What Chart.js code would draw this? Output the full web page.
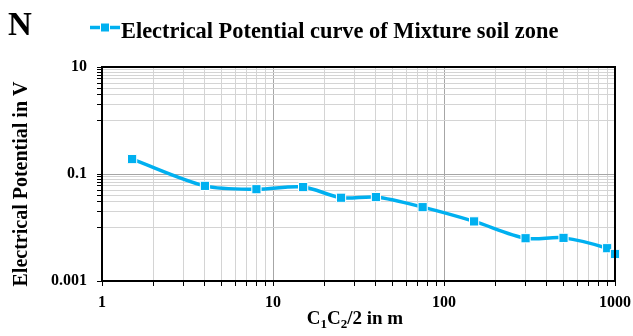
<!DOCTYPE html>
<html>
<head>
<meta charset="utf-8">
<script src="https://cdn.jsdelivr.net/npm/chart.js@4/dist/chart.umd.min.js"></script>
<style>
html,body{margin:0;padding:0;background:#fff;}
#wrap{width:633px;height:336px;position:relative;}
</style>
</head>
<body>
<div id="wrap"><canvas id="c" width="633" height="336"></canvas></div>
<script>
// ---- data ----
const panelLetter = 'N';
const seriesName = 'Electrical Potential curve of Mixture soil zone';
const xValues = [1.5, 4, 8, 15, 25, 40, 75, 150, 300, 500, 900, 1000];
const potentials = [0.19, 0.06, 0.052, 0.057, 0.036, 0.037, 0.024, 0.013, 0.0063, 0.0064, 0.0041, 0.0032];
const xTicks = [1,2,3,4,5,6,7,8,9,10,20,30,40,50,60,70,80,90,100,200,300,400,500,600,700,800,900,1000];
const xTickLabels = ['1','10','100','1000'];
const yTicks = [0.001,0.01,0.02,0.03,0.04,0.05,0.06,0.07,0.08,0.09,0.1,1,2,3,4,5,6,7,8,9,10];
const yTickLabels = ['0.001','0.1','10'];
// x title pieces: [text, isSubscript]
const xTitleParts = [['C', false], ['1', true], ['C', false], ['2', true], ['/2 in m', false]];
const yTitle = 'Electrical Potential in V';

const blue = '#00B0F0';
const serif = "'Liberation Serif','Times New Roman',serif";

function fmt(v){ return String(+v.toPrecision(6)); }
const xMajor = xTickLabels.map(Number);
const yMajor = yTickLabels.map(Number);
const isMajor = (list, v) => list.some(m => Math.abs(m - v) / m < 1e-9);

const decor = {
  id: 'decor',
  afterDraw(chart) {
    const {ctx, chartArea: a} = chart;
    ctx.save();
    // box border
    ctx.strokeStyle = '#000';
    ctx.lineWidth = 2;
    ctx.strokeRect(a.left, a.top, a.right - a.left, a.bottom - a.top);
    // panel letter
    ctx.fillStyle = '#000';
    ctx.font = 'bold 33px ' + serif;
    ctx.textBaseline = 'alphabetic';
    ctx.textAlign = 'left';
    ctx.fillText(panelLetter, 8, 35);
    // legend sample
    const ly = 27.5;
    ctx.strokeStyle = blue;
    ctx.lineWidth = 3.5;
    ctx.beginPath();
    ctx.moveTo(90, ly); ctx.lineTo(120, ly); ctx.stroke();
    ctx.fillStyle = blue;
    ctx.strokeStyle = '#fff';
    ctx.lineWidth = 1;
    ctx.fillRect(100.5, ly - 4.5, 9, 9);
    ctx.strokeRect(100.5, ly - 4.5, 9, 9);
    ctx.fillStyle = '#000';
    ctx.font = 'bold 22.4px ' + serif;
    ctx.fillText(seriesName, 121, 37.5);

    // y title (rotated)
    ctx.save();
    ctx.translate(27, 184);
    ctx.rotate(-Math.PI / 2);
    ctx.textAlign = 'center';
    ctx.font = 'bold 20px ' + serif;
    ctx.fillText(yTitle, 0, 0);
    ctx.restore();

    // x title with real subscripts
    const big = 'bold 19px ' + serif, small = 'bold 13px ' + serif;
    let total = 0;
    xTitleParts.forEach(([t, sub]) => { ctx.font = sub ? small : big; total += ctx.measureText(t).width; });
    let x = 355 - total / 2;
    const base = 323.5;
    ctx.textAlign = 'left';
    xTitleParts.forEach(([t, sub]) => {
      ctx.font = sub ? small : big;
      ctx.fillText(t, x, sub ? base + 4 : base);
      x += ctx.measureText(t).width;
    });
    ctx.restore();
  }
};

new Chart(document.getElementById('c'), {
  type: 'line',
  data: {
    datasets: [{
      label: seriesName,
      data: xValues.map((x, i) => ({x: x, y: potentials[i]})),
      borderColor: blue,
      backgroundColor: blue,
      borderWidth: 3.5,
      tension: 0.3,
      pointStyle: 'rect',
      pointRadius: 6.5,
      pointBorderColor: '#fff',
      pointBorderWidth: 1,
      pointBackgroundColor: blue,
      clip: false
    }]
  },
  options: {
    responsive: false,
    animation: false,
    devicePixelRatio: 1,
    layout: {padding: {top: 67, right: 18, left: 0, bottom: 0}},
    plugins: {legend: {display: false}, tooltip: {enabled: false}, title: {display: false}},
    scales: {
      x: {
        type: 'logarithmic',
        min: 1, max: 1000,
        afterBuildTicks: s => { s.ticks = xTicks.map(v => ({value: v, major: isMajor(xMajor, v)})); },
        afterFit: s => { s.height = 55; s.paddingLeft = 0; s.paddingRight = 0; },
        ticks: {
          autoSkip: false, maxRotation: 0, padding: 7,
          color: '#000',
          font: {family: serif, size: 16, weight: 'bold'},
          callback: v => isMajor(xMajor, v) ? fmt(v) : ''
        },
        grid: {
          color: c => (c.tick && isMajor(xMajor, c.tick.value)) ? '#a6a6a6' : '#d4d4d4',
          tickColor: '#000', tickLength: 5, lineWidth: 1
        },
        border: {display: true, color: '#000', width: 2},
        title: {display: false}
      },
      y: {
        type: 'logarithmic',
        min: 0.001, max: 10,
        afterBuildTicks: s => { s.ticks = yTicks.map(v => ({value: v, major: isMajor(yMajor, v)})); },
        afterFit: s => { s.width = 102; s.paddingTop = 0; s.paddingBottom = 0; },
        ticks: {
          autoSkip: false, padding: 10,
          color: '#000',
          font: {family: serif, size: 16, weight: 'bold'},
          callback: v => isMajor(yMajor, v) ? fmt(v) : ''
        },
        grid: {
          color: c => (c.tick && isMajor(yMajor, c.tick.value)) ? '#a6a6a6' : '#d4d4d4',
          tickColor: '#000', tickLength: 5, lineWidth: 1
        },
        border: {display: true, color: '#000', width: 2},
        title: {display: false}
      }
    }
  },
  plugins: [decor]
});
</script>
</body>
</html>
